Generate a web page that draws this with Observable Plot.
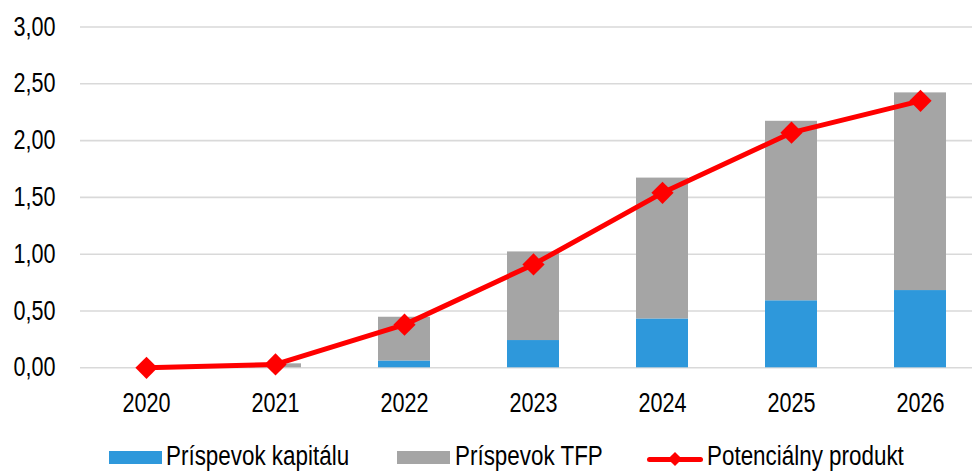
<!DOCTYPE html>
<html>
<head>
<meta charset="utf-8">
<script src="https://cdn.jsdelivr.net/npm/d3@7"></script>
<script src="https://cdn.jsdelivr.net/npm/@observablehq/plot@0.6"></script>
<style>
  html, body { margin: 0; padding: 0; background: #fff; }
  #wrap { position: relative; width: 972px; height: 472px; overflow: hidden;
          font-family: "Liberation Sans", Arial, sans-serif; }
  #legend { position: absolute; left: 0; top: 0; width: 972px; height: 472px; pointer-events: none; }
  .lg { position: absolute; font-size: 27px; color: #000; line-height: 1; white-space: nowrap;
        transform: scaleX(0.83); transform-origin: left center; }
  .sw { position: absolute; }
</style>
</head>
<body>
<div id="wrap"><div id="chart"></div><div id="legend"></div></div>
<script>
const years = ["2020", "2021", "2022", "2023", "2024", "2025", "2026"];
const kapital = [0.00, 0.00, 0.06, 0.24, 0.43, 0.59, 0.68];
const tfp = [0.00, 0.035, 0.385, 0.78, 1.24, 1.58, 1.74];
const potencial = [0.00, 0.03, 0.38, 0.91, 1.54, 2.07, 2.35];
const seriesNames = ["Príspevok kapitálu", "Príspevok TFP", "Potenciálny produkt"];
const yTicks = [0, 0.5, 1, 1.5, 2, 2.5, 3];

const colors = { bar1: "#2e98db", bar2: "#a5a5a5", line: "#ff0000", grid: "#d9d9d9" };

const bars = [];
years.forEach((y, i) => {
  bars.push({ year: y, series: seriesNames[0], value: kapital[i] });
  bars.push({ year: y, series: seriesNames[1], value: tfp[i] });
});
const lineData = years.map((y, i) => ({ year: y, value: potencial[i] }));

const H = 430;
const chart = Plot.plot({
  width: 972,
  height: H,
  marginLeft: 80,
  marginRight: 0,
  marginTop: 26.5,
  marginBottom: H - 367.3,
  style: {
    fontFamily: '"Liberation Sans", Arial, sans-serif',
    fontSize: "27px",
    color: "#000",
    background: "#fff",
    overflow: "visible"
  },
  x: {
    domain: years,
    range: [80.5, 984.6],
    paddingInner: 0.6,
    paddingOuter: 0.3,
    tickSize: 0,
    tickPadding: 25,
    label: null
  },
  y: {
    domain: [0, 3],
    ticks: yTicks,
    tickFormat: d => d.toFixed(2).replace(".", ","),
    tickSize: 0,
    tickPadding: 25,
    label: null
  },
  color: {
    domain: seriesNames.slice(0, 2),
    range: [colors.bar1, colors.bar2]
  },
  marks: [
    Plot.ruleY(yTicks, { stroke: colors.grid, strokeWidth: 1.6 }),
    Plot.barY(bars, { x: "year", y: "value", fill: "series" }),
    Plot.line(lineData, { x: "year", y: "value", stroke: colors.line, strokeWidth: 5 }),
    Plot.dot(lineData, { x: "year", y: "value", symbol: "diamond2", r: 10, fill: colors.line, stroke: "none" })
  ]
});
document.getElementById("chart").appendChild(chart);

// Condense tick labels horizontally (narrow sans look of the original)
chart.querySelectorAll("text").forEach(t => {
  const len = t.getComputedTextLength();
  if (len > 0) {
    t.setAttribute("textLength", (len * 0.8).toFixed(2));
    t.setAttribute("lengthAdjust", "spacingAndGlyphs");
  }
});

// Legend (HTML, below the SVG)
const legend = document.getElementById("legend");
const items = [
  { kind: "bar", color: colors.bar1, sx: 109, tx: 166, label: seriesNames[0] },
  { kind: "bar", color: colors.bar2, sx: 397, tx: 455, label: seriesNames[1] },
  { kind: "line", color: colors.line, sx: 647, tx: 707, label: seriesNames[2] }
];
items.forEach(it => {
  if (it.kind === "bar") {
    const s = document.createElement("div");
    s.className = "sw";
    s.style.cssText = `left:${it.sx}px;top:451px;width:53px;height:13px;background:${it.color};`;
    legend.appendChild(s);
  } else {
    const s = document.createElement("div");
    s.className = "sw";
    s.style.cssText = `left:${it.sx}px;top:456.5px;width:56px;height:5px;background:${it.color};border-radius:2.5px;`;
    legend.appendChild(s);
    const d = document.createElement("div");
    d.className = "sw";
    d.style.cssText = `left:${it.sx + 23}px;top:454px;width:10px;height:10px;background:${it.color};transform:rotate(45deg);`;
    legend.appendChild(d);
  }
  const t = document.createElement("div");
  t.className = "lg";
  t.style.left = it.tx + "px";
  t.style.top = "443px";
  t.textContent = it.label;
  legend.appendChild(t);
});
</script>
</body>
</html>
